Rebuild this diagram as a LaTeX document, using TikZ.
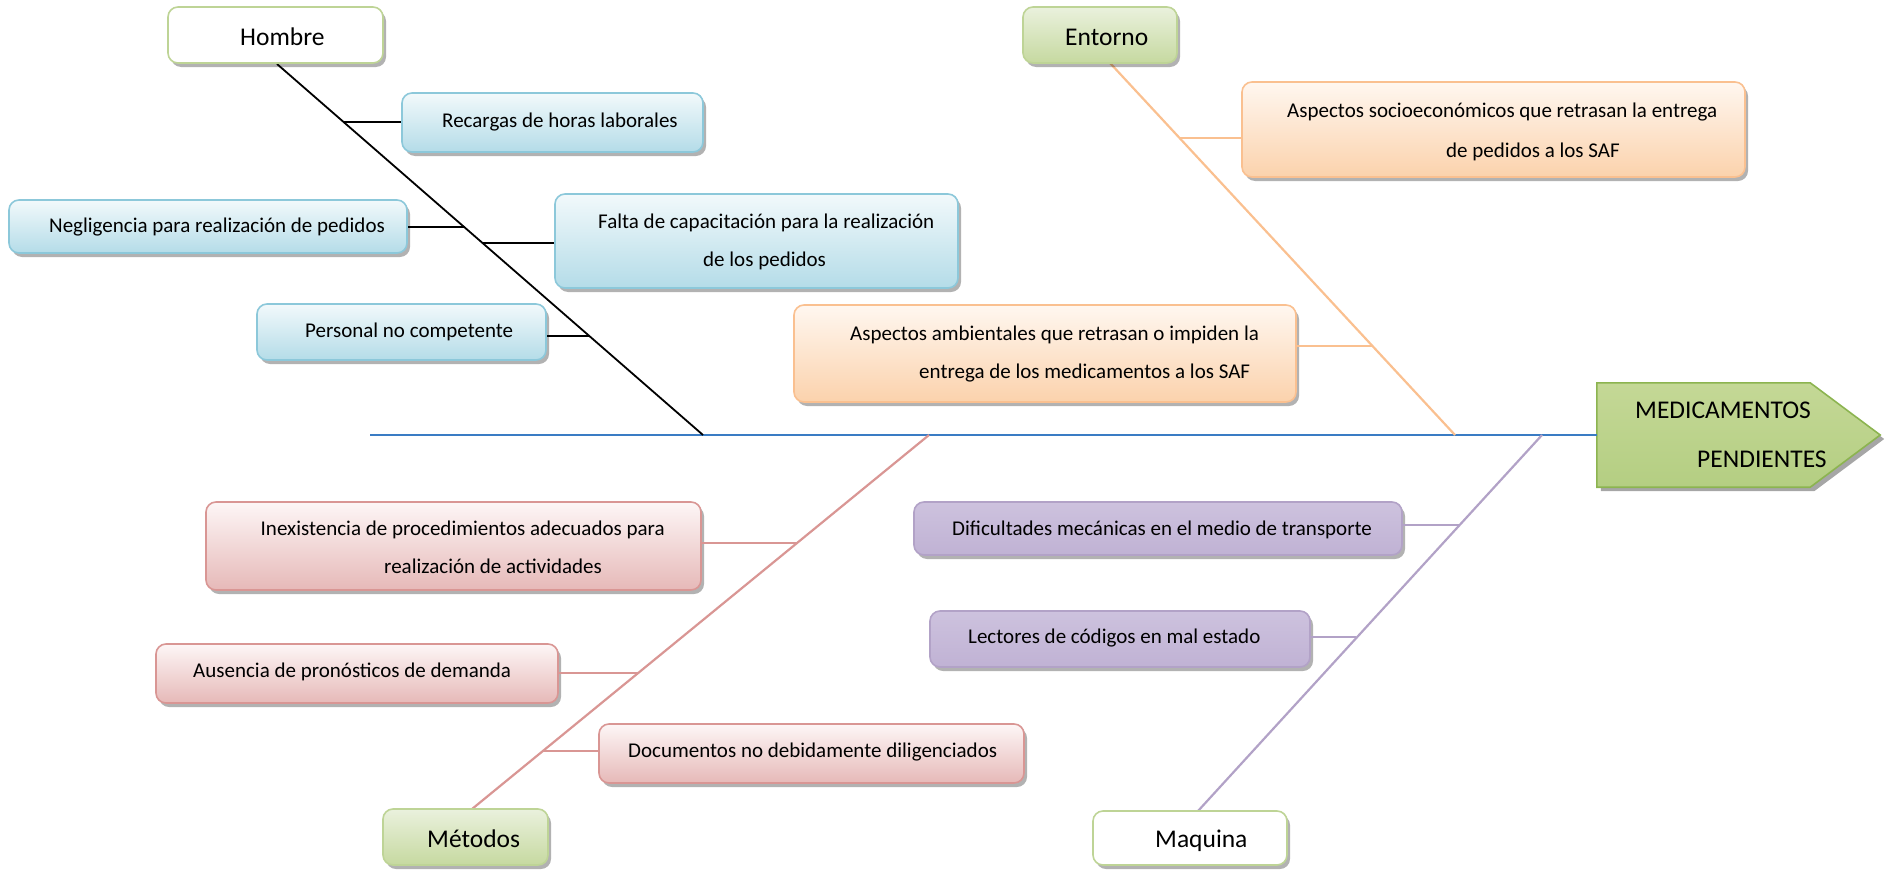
\documentclass[tikz,border=0pt]{standalone}
\usepackage{fontspec}
\setmainfont{Carlito}
\usetikzlibrary{shadows}
\definecolor{blueBd}{RGB}{140,200,218}
\definecolor{blueTop}{RGB}{242,249,251}
\definecolor{blueBot}{RGB}{180,220,232}
\definecolor{orBd}{RGB}{250,192,144}
\definecolor{orTop}{RGB}{255,247,240}
\definecolor{orBot}{RGB}{251,210,172}
\definecolor{pkBd}{RGB}{217,150,148}
\definecolor{pkTop}{RGB}{253,246,246}
\definecolor{pkBot}{RGB}{230,185,184}
\definecolor{puBd}{RGB}{178,162,199}
\definecolor{puTop}{RGB}{205,194,222}
\definecolor{puMid}{RGB}{242,239,246}
\definecolor{puBot}{RGB}{192,178,212}
\definecolor{grBd}{RGB}{190,212,150}
\definecolor{grTop}{RGB}{234,241,221}
\definecolor{grBot}{RGB}{198,217,160}
\definecolor{hdTop}{RGB}{196,216,150}
\definecolor{hdMid}{RGB}{155,187,89}
\definecolor{hdBot}{RGB}{180,206,130}
\definecolor{hdBd}{RGB}{140,180,80}
\definecolor{spineBlue}{RGB}{58,124,196}
\begin{document}
\begin{tikzpicture}[x=1pt,y=-1pt,
  box/.style={draw, line width=1.6pt, rounded corners=10pt, inner sep=0pt,
    drop shadow={shadow xshift=3pt, shadow yshift=-4pt, fill=black, opacity=0.3}},
  blueb/.style={box, draw=blueBd, top color=blueTop, bottom color=blueBot},
  orb/.style={box, draw=orBd, top color=orTop, bottom color=orBot},
  pkb/.style={box, draw=pkBd, top color=pkTop, bottom color=pkBot},
  pub/.style={box, draw=puBd, top color=puTop, middle color=puMid, bottom color=puBot},
  catw/.style={box, draw=grBd, fill=white},
  catg/.style={box, draw=grBd, top color=grTop, bottom color=grBot},
  txt/.style={font=\fontsize{21}{25}\selectfont, anchor=base west, inner sep=0pt},
  cattxt/.style={font=\fontsize{25.5}{30}\selectfont, anchor=base west, inner sep=0pt},
  hline/.style={line width=1.8pt, black},
  oline/.style={line width=2.2pt, orBd},
  pline/.style={line width=2.2pt, pkBd},
  uline/.style={line width=2.2pt, puBd},
  spine/.style={line width=1.8pt, spineBlue}
]
\useasboundingbox (0,0) rectangle (1885,870);

% head
\node[inner sep=0pt, minimum width=283pt, minimum height=104pt] (head) at (1738.5,435) {};
\path[draw=hdBd, line width=1.6pt, top color=hdTop, middle color=hdMid, bottom color=hdBot,
  drop shadow={shadow xshift=4pt, shadow yshift=-4pt, fill=black, opacity=0.35}]
  (head.north west) -- ([xshift=-70pt]head.north east) -- (head.east)
  -- ([xshift=-70pt]head.south east) -- (head.south west) -- cycle;
\node[cattxt] (headA) at (1635,418) {MEDICAMENTOS};
\node[cattxt] (headB) at (1697,467) {PENDIENTES};

% main spine
\coordinate (spineL) at (370,435);
\draw[spine] (spineL) -- (head.west);

% category spines
\coordinate (hTop) at (277,64);   \coordinate (hBot) at (703,435);
\coordinate (eTop) at (1110,63);  \coordinate (eBot) at (1455,435);
\coordinate (mTop) at (929,435);  \coordinate (mBot) at (472,809);
\coordinate (qTop) at (1542,435); \coordinate (qBot) at (1198,811);
\draw[hline] (hTop) -- (hBot);
\draw[oline] (eTop) -- (eBot);
\draw[pline] (mTop) -- (mBot);
\draw[uline] (qTop) -- (qBot);

% junctions
\coordinate (jRec) at (344,122);
\coordinate (jNeg) at (465,227);
\coordinate (jFal) at (483,243);
\coordinate (jPer) at (590,336);
\coordinate (jSoc) at (1180,138);
\coordinate (jAmb) at (1373,346);
\coordinate (jInx) at (796,543);
\coordinate (jAus) at (638,673);
\coordinate (jDoc) at (543,751);
\coordinate (jDif) at (1459,525);
\coordinate (jLec) at (1356,637);

% category boxes
\node[catw, minimum width=215pt, minimum height=56pt] (hombre) at (275.5,35) {};
\node[cattxt] (hombreT) at (240,45) {Hombre};
\node[catg, minimum width=154pt, minimum height=56pt] (entorno) at (1100,35) {};
\node[cattxt] (entornoT) at (1065,45) {Entorno};
\node[catg, minimum width=165pt, minimum height=56pt] (metodos) at (465.5,837) {};
\node[cattxt] (metodosT) at (427,847) {Métodos};
\node[catw, minimum width=194pt, minimum height=54pt] (maquina) at (1190,838) {};
\node[cattxt] (maquinaT) at (1155,847) {Maquina};

% Hombre causes
\node[blueb, minimum width=301pt, minimum height=59pt] (recargas) at (552.5,122.5) {};
\node[txt] (recargasT) at (442,127) {Recargas de horas laborales};
\node[blueb, minimum width=398pt, minimum height=53pt] (neglig) at (208,226.5) {};
\node[txt] (negligT) at (49,232) {Negligencia para realización de pedidos};
\node[blueb, minimum width=403pt, minimum height=94pt] (falta) at (756.5,241) {};
\node[txt] (faltaA) at (598,228) {Falta de capacitación para la realización};
\node[txt] (faltaB) at (703,266) {de los pedidos};
\node[blueb, minimum width=289pt, minimum height=56pt] (personal) at (401.5,332) {};
\node[txt] (personalT) at (305,337) {Personal no competente};

% Entorno causes
\node[orb, minimum width=503pt, minimum height=95pt] (socio) at (1493.5,129.5) {};
\node[txt] (socioA) at (1287,117) {Aspectos socioeconómicos que retrasan la entrega};
\node[txt] (socioB) at (1446,157) {de pedidos a los SAF};
\node[orb, minimum width=502pt, minimum height=97pt] (ambient) at (1045,353.5) {};
\node[txt] (ambientA) at (850,340) {Aspectos ambientales que retrasan o impiden la};
\node[txt] (ambientB) at (919,378) {entrega de los medicamentos a los SAF};

% Metodos causes
\node[pkb, minimum width=495pt, minimum height=88pt] (inex) at (453.5,546) {};
\node[txt] (inexA) at (260.5,535) {Inexistencia de procedimientos adecuados para};
\node[txt] (inexB) at (384,573) {realización de actividades};
\node[pkb, minimum width=402pt, minimum height=59pt] (ausencia) at (357,673.5) {};
\node[txt] (ausenciaT) at (193,677) {Ausencia de pronósticos de demanda};
\node[pkb, minimum width=425pt, minimum height=59pt] (docs) at (811.5,753.5) {};
\node[txt] (docsT) at (628,757) {Documentos no debidamente diligenciados};

% Maquina causes
\node[pub, minimum width=488pt, minimum height=53pt] (dific) at (1158,528.5) {};
\node[txt] (dificT) at (952,535) {Dificultades mecánicas en el medio de transporte};
\node[pub, minimum width=380pt, minimum height=56pt] (lectores) at (1120,639) {};
\node[txt] (lectoresT) at (968,643) {Lectores de códigos en mal estado};

% connectors
\draw[hline] (jRec) -- (jRec -| recargas.west);
\draw[hline] (jNeg) -- (jNeg -| neglig.east);
\draw[hline] (jFal) -- (jFal -| falta.west);
\draw[hline] (jPer) -- (jPer -| personal.east);
\draw[oline] (jSoc) -- (jSoc -| socio.west);
\draw[oline] (jAmb) -- (jAmb -| ambient.east);
\draw[pline] (jInx) -- (jInx -| inex.east);
\draw[pline] (jAus) -- (jAus -| ausencia.east);
\draw[pline] (jDoc) -- (jDoc -| docs.west);
\draw[uline] (jDif) -- (jDif -| dific.east);
\draw[uline] (jLec) -- (jLec -| lectores.east);
\end{tikzpicture}
\end{document}
